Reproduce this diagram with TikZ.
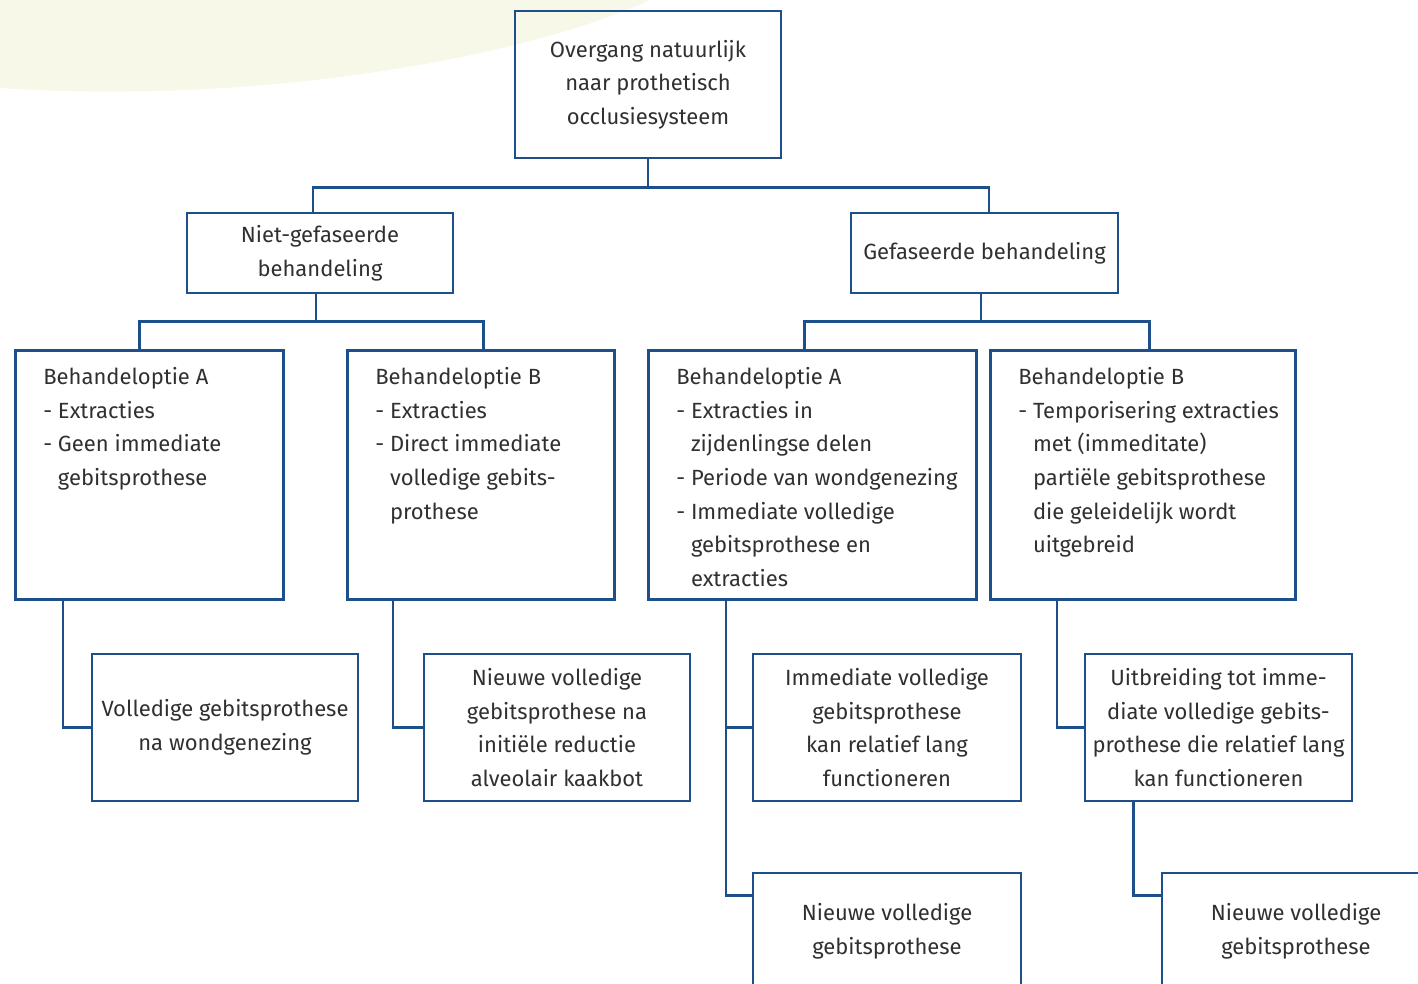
\documentclass[tikz,border=0pt]{standalone}
\usepackage{fontspec}
\setmainfont{Fira Sans}
\usepackage{tikz}
\usetikzlibrary{positioning,calc}
\definecolor{boxblue}{HTML}{1D4F8A}
\definecolor{txtgray}{HTML}{303030}
\definecolor{paleback}{HTML}{F7F8E8}

\begin{document}
\begin{tikzpicture}[x=1pt,y=-1pt,
  every node/.style={font=\fontsize{22}{33.7}\selectfont, text=txtgray},
  box/.style={draw=boxblue, line width=2.6pt, align=center, inner sep=0pt},
  optbox/.style={draw=boxblue, line width=2.6pt, anchor=north west, inner xsep=0pt, inner ysep=17pt},
  link/.style={draw=boxblue, line width=2.6pt}]

\useasboundingbox (0,0) rectangle (1418,983);
\clip (0,0) rectangle (1418,983);
\fill[paleback] (0,0) -- (0,88) .. controls (250,105) and (520,60) .. (650,0) -- cycle;

% top and phases
\node[box, minimum width=266pt, minimum height=147pt] (root) at (648,84.5) {Overgang natuurlijk\\naar prothetisch\\occlusiesysteem};
\node[box, minimum width=266pt, minimum height=80pt] (niet) at (320,253) {Niet-gefaseerde\\behandeling};
\node[box, minimum width=267pt, minimum height=80pt] (gef) at (984.5,253) {Gefaseerde behandeling};

% options
\node[optbox] (optA1) at (14,349) {\parbox[t][215pt][t]{268pt}{\raggedright\leftskip=28pt
Behandeloptie A\\- Extracties\\- Geen immediate\\\hphantom{- }gebitsprothese}};
\node[optbox] (optB1) at (346,349) {\parbox[t][215pt][t]{267pt}{\raggedright\leftskip=28pt
Behandeloptie B\\- Extracties\\- Direct immediate\\\hphantom{- }volledige gebits-\\\hphantom{- }prothese}};
\node[optbox] (optA2) at (647,349) {\parbox[t][215pt][t]{328pt}{\raggedright\leftskip=28pt
Behandeloptie A\\- Extracties in\\\hphantom{- }zijdenlingse delen\\- Periode van wondgenezing\\- Immediate volledige\\\hphantom{- }gebitsprothese en\\\hphantom{- }extracties}};
\node[optbox] (optB2) at (989,349) {\parbox[t][215pt][t]{305pt}{\raggedright\leftskip=28pt
Behandeloptie B\\- Temporisering extracties\\\hphantom{- }met (immeditate)\\\hphantom{- }partiële gebitsprothese\\\hphantom{- }die geleidelijk wordt\\\hphantom{- }uitgebreid}};

% results
\node[box, minimum width=266pt, minimum height=147pt] (heal) at (225,727.5) {Volledige gebitsprothese\\na wondgenezing};
\node[box, minimum width=266pt, minimum height=147pt] (newB1) at (557,727.5) {Nieuwe volledige\\gebitsprothese na\\initiële reductie\\alveolair kaakbot};
\node[box, minimum width=268pt, minimum height=147pt] (immA2) at (887,727.5) {Immediate volledige\\gebitsprothese\\kan relatief lang\\functioneren};
\node[box, minimum width=267pt, minimum height=147pt] (extB2) at (1218.5,727.5) {Uitbreiding tot imme-\\diate volledige gebits-\\prothese die relatief lang\\kan functioneren};
\node[box, minimum width=268pt, minimum height=116pt] (newA2) at (887,931) {Nieuwe volledige\\gebitsprothese};
\node[box, minimum width=268pt, minimum height=116pt] (newB2) at (1296,931) {Nieuwe volledige\\gebitsprothese};

% connectors
\draw[link] (root.south) -- ++(0,28) coordinate (split0);
\draw[link] ([xshift=-7pt]niet.north) |- (split0) -| ([xshift=4.5pt]gef.north);
\draw[link] ([xshift=-4pt]niet.south) -- ++(0,27) coordinate (split1);
\draw[link] ([xshift=-10pt]optA1.north) |- (split1) -| ([xshift=2.5pt]optB1.north);
\draw[link] ([xshift=-3.5pt]gef.south) -- ++(0,27) coordinate (split2);
\draw[link] ([xshift=-8pt]optA2.north) |- (split2) -| ([xshift=6.5pt]optB2.north);

\draw[link] ([xshift=49pt]optA1.south west) |- (heal.west);
\draw[link] ([xshift=47pt]optB1.south west) |- (newB1.west);
\draw[link] ([xshift=79pt]optA2.south west) |- ([yshift=-24pt]newA2.north west);
\draw[link] ([xshift=79pt]optA2.south west) |- (immA2.west);
\draw[link] ([xshift=68pt]optB2.south west) |- (extB2.west);
\draw[link] ([xshift=50pt]extB2.south west) |- ([yshift=-24pt]newB2.north west);
\end{tikzpicture}
\end{document}
